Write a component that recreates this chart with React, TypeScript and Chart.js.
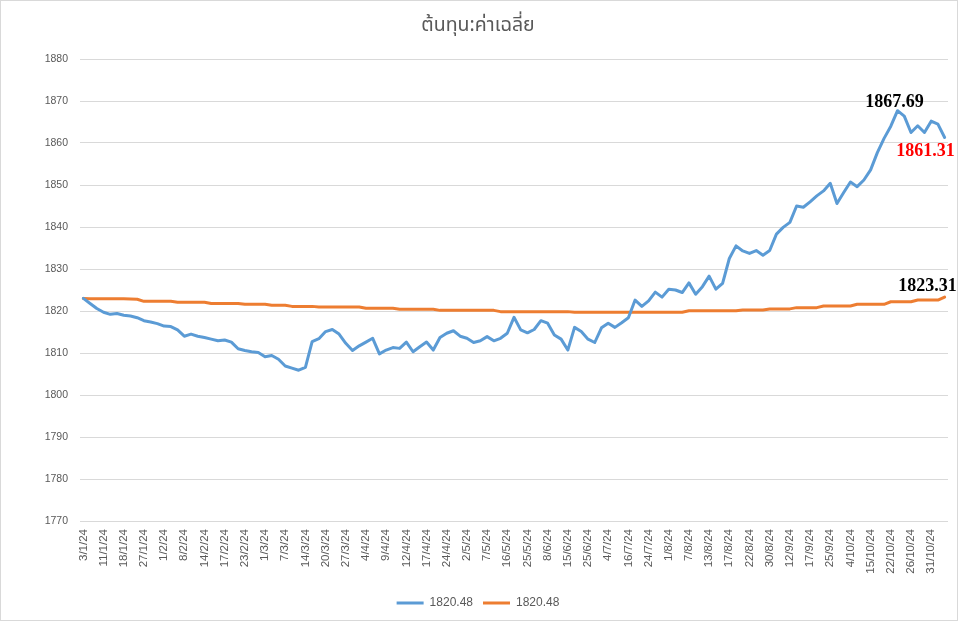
import React, { useEffect, useRef } from "react";
import { Chart, registerables } from "chart.js";

Chart.register(...registerables);

const chartTitle = "ต้นทุน:ค่าเฉลี่ย";
const seriesNames = ["1820.48", "1820.48"];
const seriesColors = ["#5B9BD5", "#ED7D31"];

const tickLabels = [
  "3/1/24", "11/1/24", "18/1/24", "27/1/24", "1/2/24", "8/2/24", "14/2/24", "17/2/24", "23/2/24", "1/3/24",
  "7/3/24", "14/3/24", "20/3/24", "27/3/24", "4/4/24", "9/4/24", "12/4/24", "17/4/24", "24/4/24", "2/5/24",
  "7/5/24", "16/5/24", "25/5/24", "8/6/24", "15/6/24", "25/6/24", "4/7/24", "16/7/24", "24/7/24", "1/8/24",
  "7/8/24", "13/8/24", "17/8/24", "22/8/24", "30/8/24", "12/9/24", "17/9/24", "25/9/24", "4/10/24", "15/10/24",
  "22/10/24", "26/10/24", "31/10/24",
];
const tickEvery = 3;

const priceSeries = [
  1823.0, 1821.8, 1820.6, 1819.7, 1819.2, 1819.4, 1819.0, 1818.8, 1818.4, 1817.7,
  1817.4, 1817.0, 1816.4, 1816.3, 1815.5, 1814.0, 1814.5, 1814.0, 1813.7, 1813.3,
  1812.9, 1813.1, 1812.6, 1811.0, 1810.6, 1810.3, 1810.1, 1809.1, 1809.4, 1808.5,
  1806.9, 1806.4, 1805.9, 1806.6, 1812.7, 1813.4, 1815.1, 1815.6, 1814.5, 1812.3,
  1810.6, 1811.7, 1812.6, 1813.5, 1809.8, 1810.7, 1811.3, 1811.1, 1812.6, 1810.3,
  1811.5, 1812.6, 1810.7, 1813.7, 1814.7, 1815.3, 1814.0, 1813.5, 1812.5, 1812.9,
  1813.9, 1812.9, 1813.5, 1814.7, 1818.5, 1815.5, 1814.8, 1815.6, 1817.7, 1817.1,
  1814.3, 1813.3, 1810.7, 1816.1, 1815.1, 1813.3, 1812.5, 1816.0, 1817.1, 1816.1,
  1817.2, 1818.4, 1822.6, 1821.1, 1822.4, 1824.5, 1823.3, 1825.2, 1825.0, 1824.4,
  1826.7, 1824.0, 1825.8, 1828.3, 1825.2, 1826.6, 1832.5, 1835.5, 1834.3, 1833.7,
  1834.4, 1833.3, 1834.4, 1838.3, 1839.9, 1841.1, 1845.0, 1844.7, 1846.0, 1847.4,
  1848.6, 1850.4, 1845.6, 1848.2, 1850.7, 1849.6, 1851.2, 1853.6, 1857.7, 1861.1,
  1864.0, 1867.69, 1866.4, 1862.5, 1864.1, 1862.5, 1865.2, 1864.5, 1861.31,
];

const averageSeries = [
  1823.0, 1822.9, 1822.9, 1822.9, 1822.9, 1822.9, 1822.9, 1822.85, 1822.8,
  1822.3, 1822.3, 1822.3, 1822.3, 1822.3,
  1822.1, 1822.1, 1822.1, 1822.1, 1822.1,
  1821.8, 1821.8, 1821.8, 1821.8, 1821.8,
  1821.6, 1821.6, 1821.6, 1821.6,
  1821.35, 1821.35, 1821.35,
  1821.1, 1821.1, 1821.1, 1821.1,
  1820.95, 1820.95, 1820.95, 1820.95, 1820.95, 1820.95, 1820.95,
  1820.65, 1820.65, 1820.65, 1820.65, 1820.65,
  1820.4, 1820.4, 1820.4, 1820.4, 1820.4, 1820.4,
  1820.15, 1820.15, 1820.15, 1820.15, 1820.15, 1820.15, 1820.15, 1820.15, 1820.15,
  1819.85, 1819.85, 1819.85, 1819.85, 1819.85, 1819.85, 1819.85, 1819.85, 1819.85, 1819.85, 1819.85,
  1819.7, 1819.7, 1819.7, 1819.7, 1819.7, 1819.7, 1819.7, 1819.7, 1819.7, 1819.7, 1819.7, 1819.7, 1819.7, 1819.7, 1819.7, 1819.7, 1819.7,
  1820.05, 1820.05, 1820.05, 1820.05, 1820.05, 1820.05, 1820.05, 1820.05,
  1820.25, 1820.25, 1820.25, 1820.25,
  1820.5, 1820.5, 1820.5, 1820.5,
  1820.8, 1820.8, 1820.8, 1820.8,
  1821.2, 1821.2, 1821.2, 1821.2, 1821.2,
  1821.6, 1821.6, 1821.6, 1821.6, 1821.6,
  1822.2, 1822.2, 1822.2, 1822.2,
  1822.6, 1822.6, 1822.6, 1822.6,
  1823.31,
];

const yMin = 1770;
const yMax = 1880;
const yStep = 10;
const peakIndex = 121;

const categories = priceSeries.map((_, i) =>
  i % tickEvery === 0 ? tickLabels[i / tickEvery] ?? "" : ""
);

const valueLabelPlugin = {
  id: "valueLabels",
  afterDatasetsDraw(chart: any) {
    const ctx = chart.ctx;
    const p0 = chart.getDatasetMeta(0).data;
    const p1 = chart.getDatasetMeta(1).data;
    ctx.save();
    ctx.font = "bold 18px 'Liberation Serif', 'Times New Roman', serif";
    ctx.textBaseline = "alphabetic";

    const peak = p0[peakIndex];
    ctx.fillStyle = "#000000";
    ctx.textAlign = "center";
    ctx.fillText(priceSeries[peakIndex].toFixed(2), peak.x - 3, peak.y - 3.5);

    const lastP = p0[p0.length - 1];
    ctx.fillStyle = "#FF0000";
    ctx.textAlign = "right";
    ctx.fillText(priceSeries[priceSeries.length - 1].toFixed(2), lastP.x + 10, lastP.y + 18.5);

    const lastA = p1[p1.length - 1];
    ctx.fillStyle = "#000000";
    ctx.textAlign = "right";
    ctx.fillText(averageSeries[averageSeries.length - 1].toFixed(2), lastA.x + 12, lastA.y - 6.4);
    ctx.restore();
  },
};

export default function App() {
  const canvasRef = useRef<HTMLCanvasElement | null>(null);

  useEffect(() => {
    const canvas = canvasRef.current;
    if (!canvas) return;
    const chart = new Chart(canvas, {
      type: "line",
      data: {
        labels: categories,
        datasets: [
          {
            label: seriesNames[0],
            data: priceSeries,
            borderColor: seriesColors[0],
            backgroundColor: seriesColors[0],
            borderWidth: 3,
            pointRadius: 0,
            tension: 0,
            borderJoinStyle: "round",
            borderCapStyle: "round",
          },
          {
            label: seriesNames[1],
            data: averageSeries,
            borderColor: seriesColors[1],
            backgroundColor: seriesColors[1],
            borderWidth: 3,
            pointRadius: 0,
            tension: 0,
            borderJoinStyle: "round",
            borderCapStyle: "round",
          },
        ],
      },
      options: {
        animation: false,
        responsive: false,
        maintainAspectRatio: false,
        devicePixelRatio: 1,
        layout: { padding: { top: 10, right: 13, bottom: 5, left: 8 } },
        plugins: {
          title: {
            display: true,
            text: chartTitle,
            color: "#595959",
            font: { family: "'Noto Sans Thai', Tahoma, sans-serif", size: 19.5, weight: "normal" },
            padding: { top: 5, bottom: 20.6 },
          },
          legend: {
            display: true,
            position: "bottom",
            labels: {
              color: "#595959",
              font: { family: "'Liberation Sans', Arial, sans-serif", size: 12 },
              usePointStyle: true,
              pointStyle: "line",
              pointStyleWidth: 27,
              padding: 10,
            },
          },
          tooltip: { enabled: false },
        },
        scales: {
          x: {
            type: "category",
            offset: true,
            grid: { display: false, drawTicks: false },
            border: { display: false },
            ticks: {
              autoSkip: false,
              minRotation: 90,
              maxRotation: 90,
              padding: 8,
              color: "#595959",
              font: { family: "'Liberation Sans', Arial, sans-serif", size: 11.5 },
            },
            afterFit: (scale: any) => {
              scale.height = 66;
              scale.paddingLeft = 0;
              scale.paddingRight = 0;
            },
          },
          y: {
            min: yMin,
            max: yMax,
            grid: { color: "#D9D9D9", lineWidth: 1, drawTicks: false },
            border: { display: false },
            ticks: {
              stepSize: yStep,
              padding: 12,
              color: "#595959",
              font: { family: "'Liberation Sans', Arial, sans-serif", size: 10.5 },
              callback: (value: any) => String(value),
            },
            afterFit: (scale: any) => {
              scale.width = 72;
            },
          },
        },
      },
      plugins: [valueLabelPlugin],
    });
    return () => chart.destroy();
  }, []);

  return (
    <div style={{ position: "absolute", left: 0, top: 0, width: 961, height: 624, background: "#FFFFFF" }}>
      <canvas ref={canvasRef} width={961} height={624} style={{ width: 961, height: 624, display: "block" }} />
      <div
        style={{
          position: "absolute",
          left: 0,
          top: 0,
          width: 958,
          height: 621,
          border: "1px solid #D9D9D9",
          boxSizing: "border-box",
          pointerEvents: "none",
        }}
      />
    </div>
  );
}
